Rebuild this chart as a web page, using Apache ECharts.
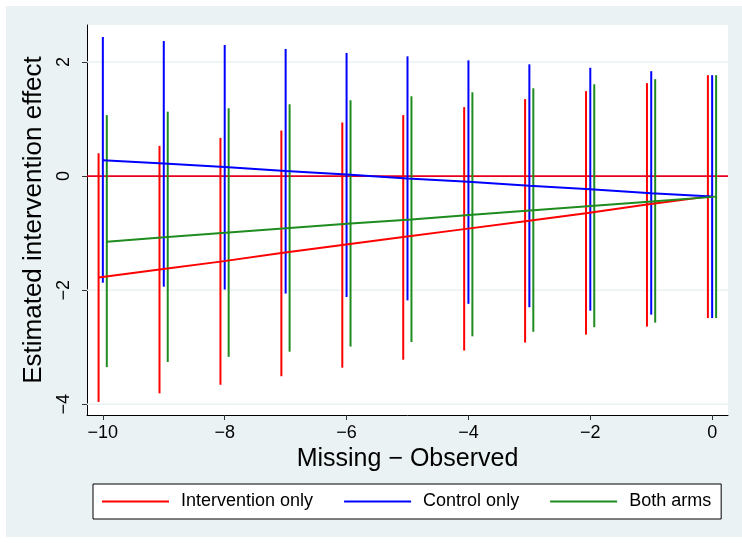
<!DOCTYPE html>
<html>
<head>
<meta charset="utf-8">
<script src="https://cdn.jsdelivr.net/npm/echarts@6/dist/echarts.min.js"></script>
<style>
  html, body { margin: 0; padding: 0; background: #fff; }
  #main { width: 742px; height: 543px; }
</style>
</head>
<body>
<div id="main"></div>
<script>
// x positions (Missing - Observed)
const xValues = [-10, -9, -8, -7, -6, -5, -4, -3, -2, -1, 0];
const xTicks = [-10, -8, -6, -4, -2, 0];
const yTicks = [-4, -2, 0, 2];

// Intervention only
const interEst = [-1.78, -1.64, -1.50, -1.35, -1.21, -1.07, -0.93, -0.79, -0.65, -0.50, -0.36];
const interLow = [-3.96, -3.81, -3.66, -3.51, -3.36, -3.22, -3.06, -2.92, -2.78, -2.64, -2.49];
const interHigh = [0.40, 0.53, 0.67, 0.80, 0.94, 1.07, 1.21, 1.35, 1.49, 1.63, 1.77];
// Control only
const ctrlEst = [0.28, 0.22, 0.16, 0.09, 0.03, -0.04, -0.10, -0.17, -0.23, -0.30, -0.36];
const ctrlLow = [-1.87, -1.94, -1.99, -2.06, -2.12, -2.18, -2.24, -2.30, -2.36, -2.43, -2.49];
const ctrlHigh = [2.44, 2.37, 2.30, 2.23, 2.16, 2.10, 2.03, 1.96, 1.90, 1.84, 1.77];
// Both arms
const bothEst = [-1.15, -1.07, -0.99, -0.91, -0.83, -0.76, -0.68, -0.60, -0.52, -0.44, -0.36];
const bothLow = [-3.35, -3.26, -3.17, -3.08, -2.99, -2.91, -2.81, -2.73, -2.65, -2.57, -2.49];
const bothHigh = [1.07, 1.13, 1.19, 1.26, 1.33, 1.40, 1.47, 1.54, 1.61, 1.70, 1.77];

const RED = '#ff0000', BLUE = '#0000ff', GREEN = '#1e8c1e';
const FONT = '"Liberation Sans", Arial, sans-serif';

function minus (v) {
  return v < 0 ? '\u2212' + Math.abs(v) : String(v);
}

// horizontal line across the plot area at value v
function hLineSeries (values, color, width, z) {
  return {
    type: 'custom',
    silent: true,
    z: z,
    data: values.map(v => [0, v]),
    encode: { y: 1 },
    renderItem: function (params, api) {
      const cs = params.coordSys;
      const y = api.coord([0, api.value(1)])[1];
      return {
        type: 'line',
        shape: { x1: cs.x, y1: y, x2: cs.x + cs.width, y2: y },
        style: { stroke: color, lineWidth: width }
      };
    }
  };
}

// vertical interval bars, nudged sideways a bit so they don't overlap
function ciSeries (name, lows, highs, color, shift) {
  return {
    name: name,
    type: 'custom',
    silent: true,
    z: 3,
    data: xValues.map((x, i) => [x, lows[i], highs[i]]),
    encode: { x: 0, y: [1, 2] },
    renderItem: function (params, api) {
      const p1 = api.coord([api.value(0) + shift, api.value(1)]);
      const p2 = api.coord([api.value(0) + shift, api.value(2)]);
      return {
        type: 'line',
        shape: { x1: p1[0], y1: p1[1], x2: p2[0], y2: p2[1] },
        style: { stroke: color, lineWidth: 2 }
      };
    }
  };
}

function estSeries (name, est, color, shift) {
  return {
    name: name,
    type: 'line',
    symbol: 'none',
    silent: true,
    z: 4,
    data: xValues.map((x, i) => [x + shift, est[i]]),
    lineStyle: { color: color, width: 2 },
    itemStyle: { color: color }
  };
}

const chart = echarts.init(document.getElementById('main'));

const option = {
  animation: false,
  backgroundColor: '#ffffff',
  textStyle: { fontFamily: FONT },
  graphic: [{
    type: 'rect',
    z: -10,
    shape: { x: 6, y: 6, width: 736, height: 531 },
    style: { fill: '#eaf2f3' }
  }],
  grid: {
    left: 87, right: 14, top: 25, bottom: 128,
    show: true, backgroundColor: '#ffffff', borderWidth: 0
  },
  xAxis: {
    type: 'value',
    min: -10.26,
    max: 0.26,
    name: 'Missing \u2212 Observed',
    nameLocation: 'middle',
    nameGap: 28,
    nameTextStyle: { fontSize: 25, color: '#000', fontFamily: FONT },
    axisLine: { show: true, onZero: false, lineStyle: { color: '#000', width: 1 } },
    axisTick: { show: true, length: 5, customValues: xTicks, lineStyle: { color: '#333' } },
    axisLabel: { customValues: xTicks, fontSize: 18, color: '#000', margin: 9, formatter: minus },
    splitLine: { show: false }
  },
  yAxis: {
    type: 'value',
    min: -4.19,
    max: 2.65,
    name: 'Estimated intervention effect',
    nameLocation: 'middle',
    nameGap: 31,
    nameTextStyle: { fontSize: 26, color: '#000', fontFamily: FONT },
    axisLine: { show: true, onZero: false, lineStyle: { color: '#000', width: 1 } },
    axisTick: { show: true, length: 5, customValues: yTicks, lineStyle: { color: '#333' } },
    axisLabel: { customValues: yTicks, fontSize: 18, color: '#000', rotate: 90, margin: 14, formatter: minus },
    splitLine: { show: false }
  },
  legend: {
    data: ['Intervention only', 'Control only', 'Both arms'],
    left: 93,
    top: 484,
    orient: 'horizontal',
    backgroundColor: '#ffffff',
    borderColor: '#000',
    borderWidth: 1,
    borderRadius: 0,
    padding: [8, 10, 8, 9],
    icon: 'rect',
    itemWidth: 67,
    itemHeight: 2,
    itemGap: 31,
    textStyle: { fontSize: 18, color: '#000', fontFamily: FONT, padding: [0, 0, 0, 7], lineHeight: 19 }
  },
  series: [
    hLineSeries(yTicks.filter(v => v !== 0), '#eaf2f3', 1.5, 1),
    hLineSeries([0], '#e8001c', 1.6, 2),
    ciSeries('ci-inter', interLow, interHigh, RED, -0.07),
    ciSeries('ci-ctrl', ctrlLow, ctrlHigh, BLUE, 0),
    ciSeries('ci-both', bothLow, bothHigh, GREEN, 0.065),
    estSeries('Intervention only', interEst, RED, -0.07),
    estSeries('Control only', ctrlEst, BLUE, 0),
    estSeries('Both arms', bothEst, GREEN, 0.065)
  ]
};

chart.setOption(option);
</script>
</body>
</html>
